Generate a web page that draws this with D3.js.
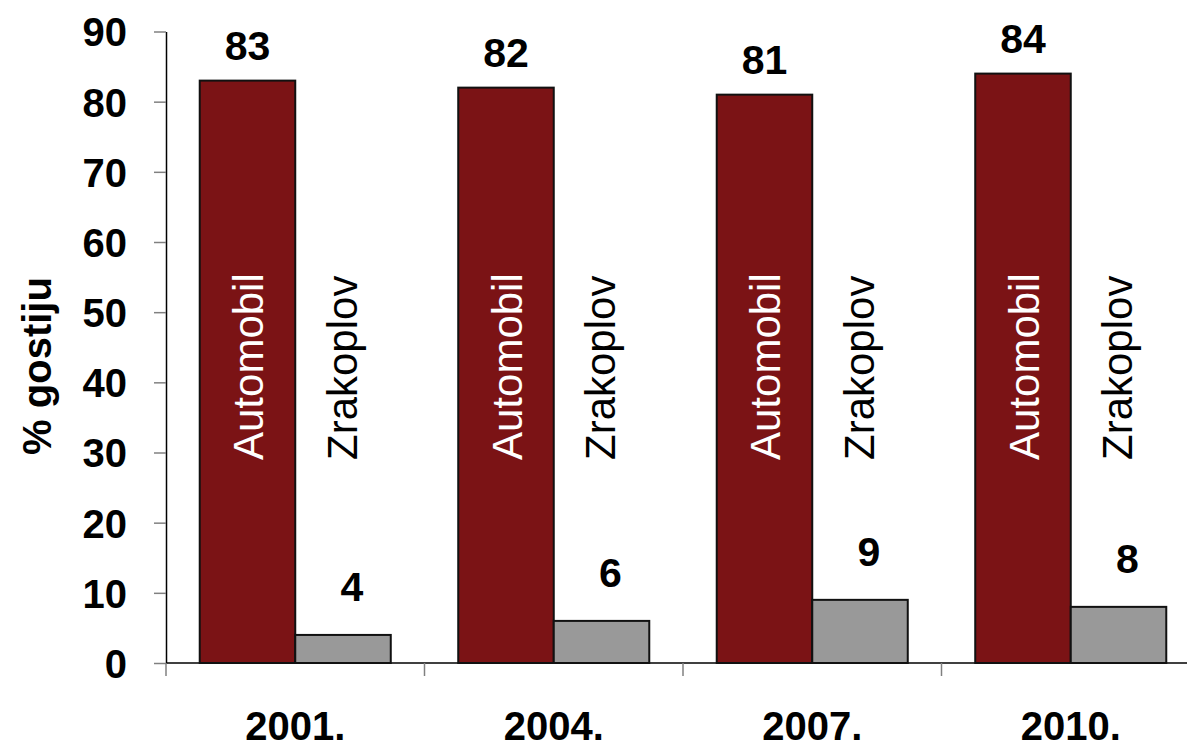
<!DOCTYPE html>
<html>
<head>
<meta charset="utf-8">
<script src="https://cdn.jsdelivr.net/npm/d3@7"></script>
<style>
  body { margin: 0; background: #fff; }
  svg text { font-family: "Liberation Sans", Arial, sans-serif; }
</style>
</head>
<body>
<div class="chart"></div>
<script>
// data
let years = ['2001.', '2004.', '2007.', '2010.'];
let series = ['Automobil', 'Zrakoplov'];
let automobil = [83, 82, 81, 84];
let zrakoplov = [4, 6, 9, 8];
let yTicks = [0, 10, 20, 30, 40, 50, 60, 70, 80, 90];

var width = 1187, height = 741;
var plotLeft = 166, plotRight = 1200, plotTop = 31.5, plotBottom = 663;

let colors = { Automobil: '#7b1315', Zrakoplov: '#999999' };

let svg = d3.select('.chart')
    .append('svg')
    .attr('width', width)
    .attr('height', height);

let x0 = d3.scaleBand()
    .domain(years)
    .range([plotLeft, plotRight])
    .paddingInner(0.261)
    .paddingOuter(0.1305);

let x1 = d3.scaleBand()
    .domain(series)
    .range([0, x0.bandwidth()]);

let y = d3.scaleLinear()
    .domain([0, 90])
    .range([plotBottom, plotTop]);

let rows = years.map((yr, i) => ({
    year: yr,
    values: [
        { key: 'Automobil', value: automobil[i] },
        { key: 'Zrakoplov', value: zrakoplov[i] }
    ]
}));

// y axis
let yAxis = svg.append('g')
    .attr('transform', 'translate(' + plotLeft + ',0)')
    .call(d3.axisLeft(y).tickValues(yTicks).tickSize(12).tickPadding(27).tickSizeOuter(0));
yAxis.select('.domain').attr('stroke', '#000').attr('stroke-width', 1.5);
yAxis.selectAll('.tick line').attr('stroke', '#808080').attr('stroke-width', 1.5);
yAxis.selectAll('.tick text')
    .attr('font-size', 40)
    .attr('font-weight', 'bold')
    .attr('fill', '#000')
    .attr('dy', '0.36em');

// x axis: ticks on category boundaries
let step = x0.step();
let bounds = years.map(yr => x0(yr) - x0.paddingInner() * step / 2);
svg.append('line')
    .attr('x1', plotLeft).attr('x2', width)
    .attr('y1', plotBottom).attr('y2', plotBottom)
    .attr('stroke', '#000').attr('stroke-width', 1.5);
svg.selectAll('.xtick')
    .data(bounds)
    .enter().append('line')
    .attr('class', 'xtick')
    .attr('x1', d => d).attr('x2', d => d)
    .attr('y1', plotBottom).attr('y2', plotBottom + 13)
    .attr('stroke', '#808080').attr('stroke-width', 1.5);
svg.selectAll('.xlabel')
    .data(years)
    .enter().append('text')
    .attr('class', 'xlabel')
    .attr('x', d => x0(d) + x0.bandwidth() / 2)
    .attr('y', 740)
    .attr('text-anchor', 'middle')
    .attr('font-size', 40)
    .attr('font-weight', 'bold')
    .text(d => d);

// y title
svg.append('text')
    .attr('transform', 'translate(51,366) rotate(-90)')
    .attr('text-anchor', 'middle')
    .attr('font-size', 40)
    .attr('font-weight', 'bold')
    .text('% gostiju');

// bars
let groups = svg.selectAll('.group')
    .data(rows)
    .enter().append('g')
    .attr('class', 'group')
    .attr('transform', d => 'translate(' + x0(d.year) + ',0)');

groups.selectAll('rect')
    .data(d => d.values)
    .enter().append('rect')
    .attr('x', d => x1(d.key))
    .attr('y', d => y(d.value))
    .attr('width', x1.bandwidth())
    .attr('height', d => plotBottom - y(d.value))
    .attr('fill', d => colors[d.key])
    .attr('stroke', '#111')
    .attr('stroke-width', 2);

// series names written inside the plot
groups.selectAll('.sname')
    .data(d => d.values)
    .enter().append('text')
    .attr('class', 'sname')
    .attr('transform', d => {
        let cx = x1(d.key) + x1.bandwidth() / 2 + (d.key === 'Automobil' ? 16 : 13.5);
        return 'translate(' + cx + ',460) rotate(-90)';
    })
    .attr('font-size', 42)
    .attr('fill', d => d.key === 'Automobil' ? '#fff' : '#000')
    .text(d => d.key);

// value labels
groups.selectAll('.vlabel')
    .data(d => d.values)
    .enter().append('text')
    .attr('class', 'vlabel')
    .attr('x', d => x1(d.key) + x1.bandwidth() / 2 + (d.key === 'Automobil' ? 0 : 9))
    .attr('y', d => y(d.value) - (d.key === 'Automobil' ? 21 : 34))
    .attr('text-anchor', 'middle')
    .attr('font-size', 41)
    .attr('font-weight', 'bold')
    .text(d => d.value);
</script>
</body>
</html>
